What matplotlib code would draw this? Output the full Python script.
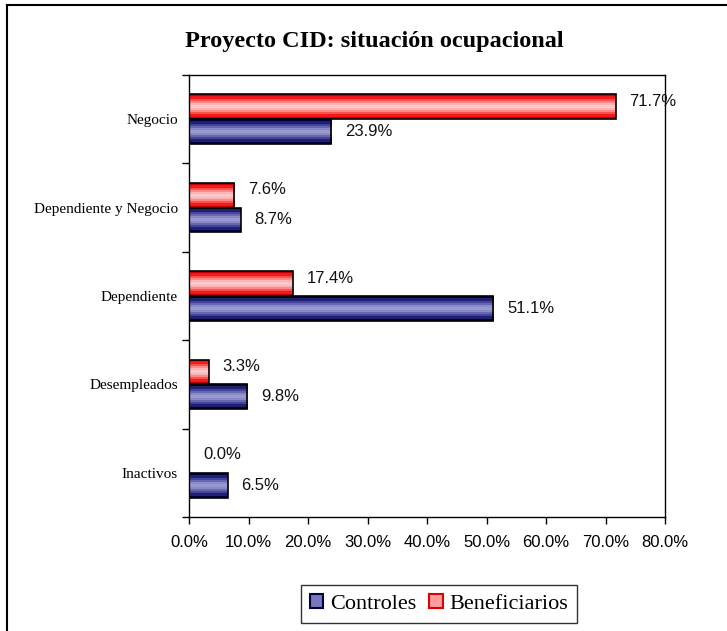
import numpy as np
import matplotlib
matplotlib.use("Agg")
import matplotlib.pyplot as plt
from matplotlib.colors import LinearSegmentedColormap
from matplotlib.patches import Patch
from matplotlib.lines import Line2D

categories = ["Inactivos", "Desempleados", "Dependiente", "Dependiente y Negocio", "Negocio"]
controles = [6.5, 9.8, 51.1, 8.7, 23.9]
beneficiarios = [0.0, 3.3, 17.4, 7.6, 71.7]
series_names = ["Controles", "Beneficiarios"]
xticks = [0, 10, 20, 30, 40, 50, 60, 70, 80]

fig = plt.figure(figsize=(7.27, 6.31), dpi=100)
ax = fig.add_axes([189/727, 1-517/631, (665-189)/727, (517-75)/631])

blue_cmap = LinearSegmentedColormap.from_list(
    "b", ["#000040", "#2a2a80", "#5656a8", "#8686c4", "#9a9ad2", "#8686c4", "#5656a8", "#2a2a80", "#000040"])
red_cmap = LinearSegmentedColormap.from_list(
    "r", ["#c00000", "#ff2020", "#ff7070", "#ffb0b0", "#ffc8c8", "#ffb0b0", "#ff7070", "#ff2020", "#c00000"])

y = np.arange(len(categories))
h = 0.28
grad = np.linspace(0, 1, 11).reshape(-1, 1)

bars_c = ax.barh(y - h/2, controles, height=h, facecolor="none", edgecolor="black", linewidth=1.2, zorder=3)
bars_b = ax.barh(y + h/2, beneficiarios, height=h, facecolor="none", edgecolor="black", linewidth=1.2, zorder=3)

for bars, cmap in ((bars_c, blue_cmap), (bars_b, red_cmap)):
    for b in bars:
        x0, y0, w, hh = b.get_x(), b.get_y(), b.get_width(), b.get_height()
        if w <= 0:
            continue
        im = ax.imshow(grad, cmap=cmap, extent=[x0, x0 + w, y0, y0 + hh], aspect="auto",
                       interpolation="nearest", origin="lower", zorder=2)
        im.set_clip_path(b)

ax.set_xlim(0, 80)
ax.set_ylim(-0.5, len(categories) - 0.5)

for bars, vals, dy in ((bars_c, controles, 0), (bars_b, beneficiarios, 4)):
    for b, v in zip(bars, vals):
        ax.annotate(f"{v:.1f}%", (v, b.get_y() + b.get_height()/2), xytext=(10, dy),
                    textcoords="offset points", ha="left", va="center",
                    fontsize=12, family="Liberation Sans", color="#111111", zorder=5,
                    annotation_clip=False)

ax.set_xticks(xticks)
ax.set_xticklabels([f"{t:.1f}%" for t in xticks], family="Liberation Sans", fontsize=12)
ax.tick_params(axis="x", direction="out", length=5, width=1, pad=8)

ax.set_yticks(y)
ax.set_yticklabels(categories, family="Liberation Serif", fontsize=11)
ax.tick_params(axis="y", which="major", length=0, pad=8)
ax.set_yticks(np.arange(-0.5, len(categories)), minor=True)
ax.tick_params(axis="y", which="minor", direction="out", length=5, width=1)

for s in ax.spines.values():
    s.set_color("black")
    s.set_linewidth(1)

fig.text(374/727, 1-42/631, "Proyecto CID: situación ocupacional", ha="center", va="center",
         family="Liberation Serif", fontweight="bold", fontsize=17.5)

handles = [Patch(facecolor="#7878bc", edgecolor="#000040", linewidth=1.5),
           Patch(facecolor="#ff9c9c", edgecolor="#e00000", linewidth=1.5)]
leg = fig.legend(handles, series_names, loc="center", bbox_to_anchor=(439/727, 1-604/631),
                 ncol=2, frameon=True, fancybox=False, edgecolor="black",
                 prop={"family": "Liberation Serif", "size": 16},
                 handlelength=0.6, handleheight=0.6, handletextpad=0.3, columnspacing=0.6,
                 borderpad=0.4, borderaxespad=0)
leg.get_frame().set_linewidth(1)

fig.add_artist(Line2D([7/727, 7/727], [0, 1-5/631], color="black", linewidth=1.5, transform=fig.transFigure))
fig.add_artist(Line2D([7/727, 1], [1-5/631, 1-5/631], color="black", linewidth=1.5, transform=fig.transFigure))

fig.savefig("out.png", dpi=100, facecolor="white")
